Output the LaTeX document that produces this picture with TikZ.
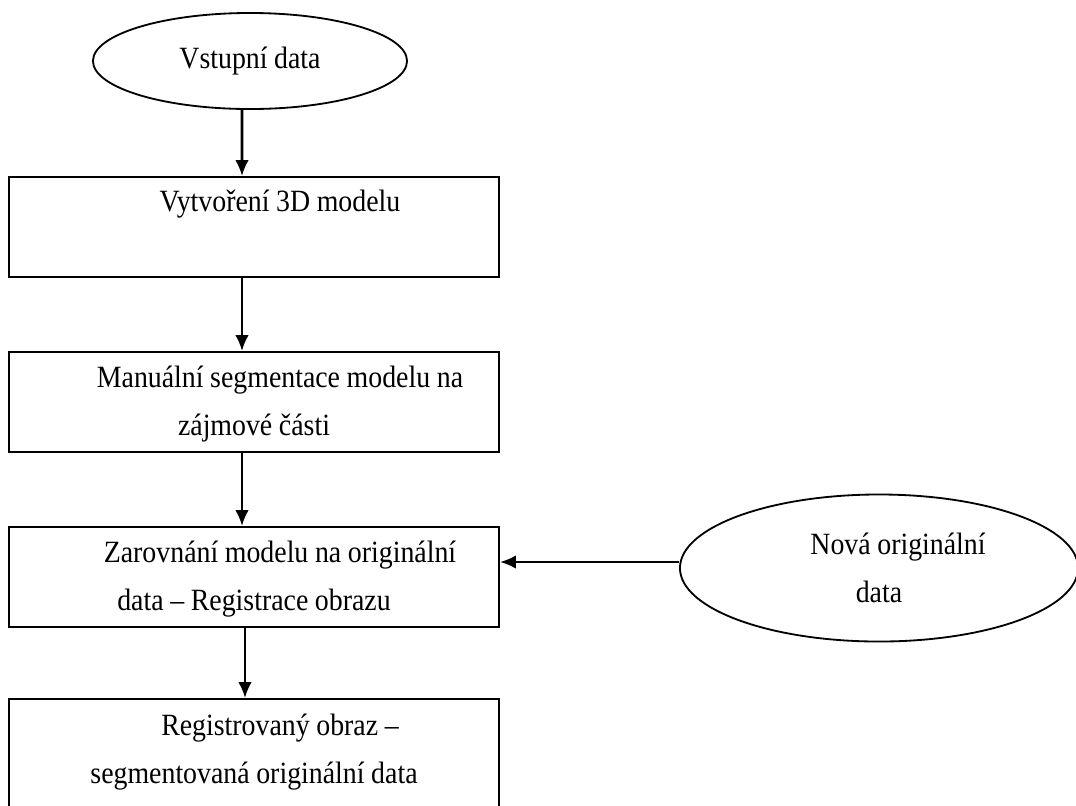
\documentclass[tikz,border=0pt]{standalone}
\usepackage{fontspec}
\setmainfont{Liberation Serif}[FakeStretch=0.9,WordSpace=0.95]
\usetikzlibrary{shapes.geometric,arrows.meta}

\begin{document}
\begin{tikzpicture}[x=0.025cm,y=-0.025cm,
  font=\fontsize{22}{34}\selectfont,
  krok/.style={draw,line width=1.3pt,rectangle,minimum width=12.25cm,minimum height=2.5cm,
    align=center,inner sep=0pt},
  data/.style={draw,line width=1.3pt,ellipse,inner sep=0pt,align=center},
  tok/.style={line width=1.8pt,-{Latex[length=0.4cm,width=0.34cm]}}]
\useasboundingbox (0,0) rectangle (1076,805);
\node[data,minimum width=7.85cm,minimum height=2.4cm] (vstup) at (250,61) {Vstupní data};
\node[krok] (model) at (254,227) {\hspace*{1.3cm}\strut Vytvoření 3D modelu\\[2pt] \strut};
\node[krok] (segm) at (254,402) {\hspace*{1.3cm}\strut Manuální segmentace modelu na\\\strut zájmové části};
\node[krok] (zarov) at (254,577) {\hspace*{1.3cm}\strut Zarovnání modelu na originální\\\strut data -- Registrace obrazu};
\node[krok,minimum height=3.75cm] (obraz) at (254,774) {\hspace*{1.3cm}\strut Registrovaný obraz --\\\strut segmentovaná originální data\\ \strut};
\node[data,minimum width=9.95cm,minimum height=3.675cm] (nova) at (879,568) {\hspace*{0.95cm}Nová originální\\data};
\draw[tok] ([xshift=-0.2cm]vstup.south) -- ([xshift=-0.3cm]model.north);
\draw[tok] ([xshift=-0.3cm]model.south) -- ([xshift=-0.3cm]segm.north);
\draw[tok] ([xshift=-0.3cm]segm.south) -- ([xshift=-0.3cm]zarov.north);
\draw[tok] ([xshift=-0.225cm]zarov.south) -- ([xshift=-0.225cm]obraz.north);
\draw[tok] ([yshift=0.15cm]nova.west) -- ([yshift=0.15cm]nova.west -| zarov.east);
\end{tikzpicture}
\end{document}
